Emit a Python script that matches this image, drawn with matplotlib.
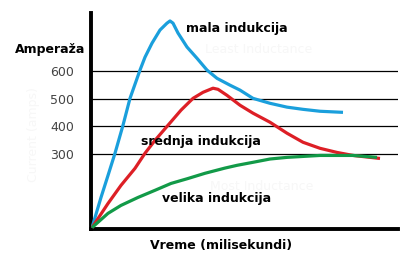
import matplotlib.pyplot as plt

# curve data (x in ms, arbitrary scale; y in amps)
blue_x = [1, 10, 17, 24, 32, 39, 49, 54, 61, 69, 76, 79, 82, 87, 96, 106, 116, 126,
          139, 149, 162, 179, 196, 212, 229, 252]
blue_y = [30, 140, 220, 301, 403, 501, 604, 651, 702, 750, 775, 783, 775, 739, 688, 647, 604, 574,
          549, 531, 501, 483, 469, 461, 454, 450]

red_x = [1, 17, 30, 44, 54, 64, 77, 90, 102, 112, 122, 127, 136, 149, 162, 179, 196,
         212, 229, 246, 262, 289]
red_y = [30, 118, 184, 246, 301, 348, 403, 458, 501, 523, 538, 534, 512, 476, 447, 414, 374,
         341, 319, 304, 293, 282]

green_x = [1, 17, 30, 47, 64, 80, 97, 114, 134, 146, 162, 179, 196, 229, 262, 286]
green_y = [30, 82, 111, 140, 166, 191, 209, 228, 247, 257, 268, 280, 286, 293, 293, 286]

yticks = [300, 400, 500, 600]

fig = plt.figure(figsize=(4.2, 2.63), dpi=100)
ax = fig.add_axes([91 / 420, 34 / 263, 307 / 420, 216 / 263])

for v in yticks:
    ax.axhline(v, color='black', lw=0.9, zorder=1)

line_kw = dict(lw=2.3, solid_capstyle='butt', solid_joinstyle='round', zorder=3)
ax.plot(blue_x, blue_y, color='#1a9fdc', **line_kw)
ax.plot(red_x, red_y, color='#dd1f26', **line_kw)
ax.plot(green_x, green_y, color='#129a48', **line_kw)

ax.set_xlim(0, 307)
ax.set_ylim(25, 812)
ax.set_xticks([])
ax.set_yticks(yticks)
ax.set_yticklabels([str(v) for v in yticks], color='#444444', fontsize=9)
ax.tick_params(axis='y', length=0, pad=12)

for s in ['top', 'right']:
    ax.spines[s].set_visible(False)
ax.spines['left'].set_linewidth(2.8)
ax.spines['bottom'].set_linewidth(2.8)

bold = dict(fontsize=9, fontweight='bold', color='black')
ax.text(95, 755, 'mala indukcija', va='center', **bold)
ax.text(50, 345, 'srednja indukcija', va='center', **bold)
ax.text(71, 136, 'velika indukcija', va='center', **bold)

fig.text(15 / 420, 1 - 50 / 263, 'Amperaža', va='center', ha='left', **bold)
fig.text(221 / 420, 1 - 246 / 263, 'Vreme (milisekundi)', va='center', ha='center', **bold)

# faint ghost labels
ghost = dict(fontsize=9, color='#f7f7f7', zorder=0)
fig.text(33 / 420, 1 - 135 / 263, 'Current (amps)', rotation=90, ha='center', va='center', **ghost)
ax.text(114, 680, 'Least Inductance', va='center', **ghost)
ax.text(119, 180, 'Most Inductance', va='center', **ghost)

fig.savefig('out.png', dpi=100)
